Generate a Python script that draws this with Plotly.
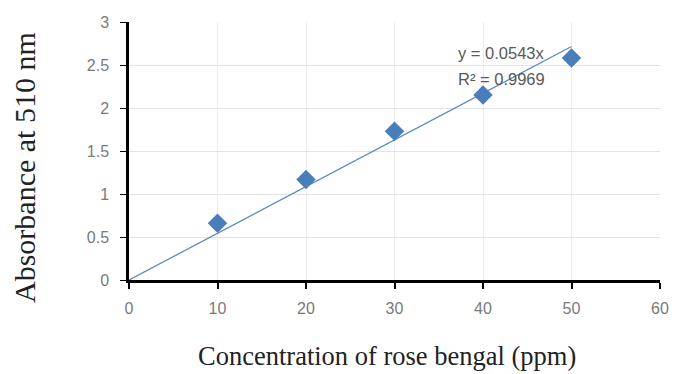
import plotly.graph_objects as go

conc = [10, 20, 30, 40, 50]
absorb = [0.66, 1.17, 1.73, 2.15, 2.58]
slope = 0.0543
trend_x = [0, 50]
trend_y = [slope * v for v in trend_x]

W, H = 675, 374
L, T = 129, 22
R = W - 660
B = H - 280

fig = go.Figure()
fig.add_trace(go.Scatter(x=trend_x, y=trend_y, mode="lines",
                         line=dict(color="#5b8cc6", width=1.3), showlegend=False))
fig.add_trace(go.Scatter(x=conc, y=absorb, mode="markers",
                         marker=dict(symbol="diamond", size=15, color="#4a7ebb",
                                     line=dict(width=0)), showlegend=False))

ann_font = dict(family="Liberation Sans", size=16.5, color="#595959")
fig.add_annotation(x=42.1, y=2.64, xref="x", yref="y", text="y = 0.0543x",
                   showarrow=False, xanchor="center", yanchor="middle", font=ann_font)
fig.add_annotation(x=42.1, y=2.34, xref="x", yref="y", text="R² = 0.9969",
                   showarrow=False, xanchor="center", yanchor="middle", font=ann_font)

pw, ph = W - L - R, H - T - B


def px_to_paper(px, py):
    return (px - L) / pw, ((H - py) - B) / ph


xt, yt = px_to_paper(387, 356)
fig.add_annotation(x=xt, y=yt, xref="paper", yref="paper", text="Concentration of rose bengal (ppm)",
                   showarrow=False, xanchor="center", yanchor="middle",
                   font=dict(family="Liberation Serif", size=26.5, color="#222"))
xt, yt = px_to_paper(24, 168)
fig.add_annotation(x=xt, y=yt, xref="paper", yref="paper", text="Absorbance at 510 nm",
                   textangle=-90, showarrow=False, xanchor="center", yanchor="middle",
                   font=dict(family="Liberation Serif", size=30, color="#222"))

fig.update_layout(
    width=W, height=H,
    margin=dict(l=L, r=R, t=T, b=B),
    plot_bgcolor="white", paper_bgcolor="white",
    font=dict(family="Liberation Sans", color="#7a7a7a", size=16),
)

fig.update_xaxes(range=[0, 60], dtick=10, showgrid=True, gridcolor="#ededed",
                 showline=True, linecolor="black", linewidth=2.5,
                 ticks="outside", ticklen=6, tickcolor="black", tickwidth=2,
                 ticklabelstandoff=6,
                 zeroline=False, automargin=False)
fig.update_yaxes(range=[0, 3], dtick=0.5, showgrid=True, gridcolor="#e3e3e3",
                 showline=True, linecolor="black", linewidth=2.5,
                 ticks="outside", ticklen=6, tickcolor="black", tickwidth=1,
                 ticklabelstandoff=8,
                 zeroline=False, automargin=False)
fig.write_html("out.html", config={"displayModeBar": False},
               post_script="document.body.style.margin='0px';document.body.style.overflow='hidden';")
